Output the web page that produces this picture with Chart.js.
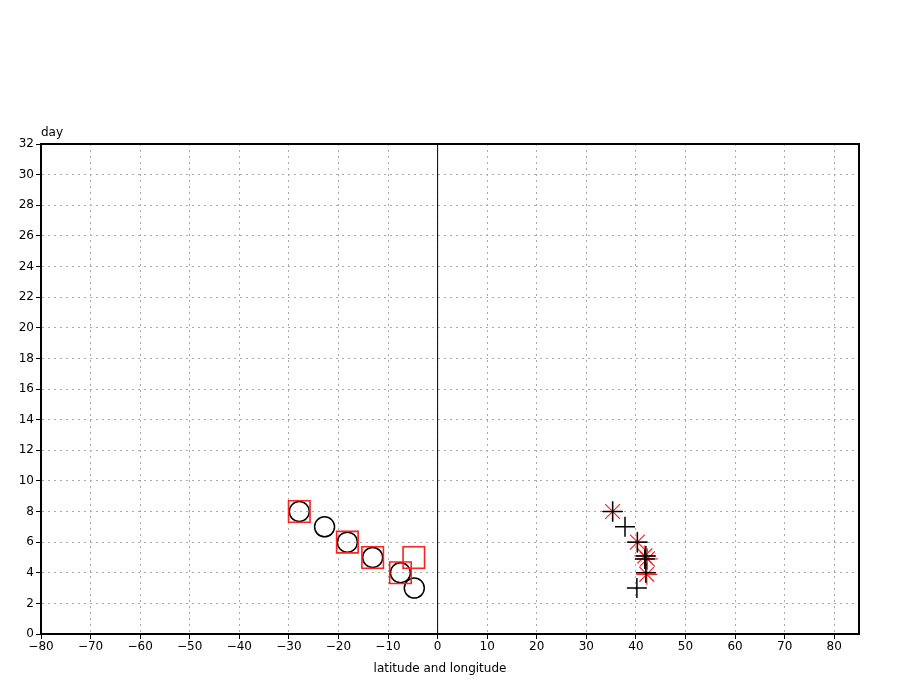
<!DOCTYPE html>
<html>
<head>
<meta charset="utf-8">
<script src="https://cdn.jsdelivr.net/npm/chart.js@4.4.1/dist/chart.umd.min.js"></script>
<style>
  html, body { margin: 0; padding: 0; background: #fff; }
  #wrap { width: 900px; height: 695px; position: relative; }
</style>
</head>
<body>
<div id="wrap"><canvas id="chart"></canvas></div>
<script>
/* ─────────────────────────────────────────
   DATA
───────────────────────────────────────── */
const circleLon = [-27.9, -22.8, -18.2, -13.1, -7.5, -4.7];
const circleDay = [8, 7, 6, 5, 4, 3];

const squareLon = [-27.9, -18.2, -13.1, -4.8, -7.5];
const squareDay = [8, 6, 5, 5, 4];

const plusLon = [35.3, 37.8, 40.3, 42.0, 41.8, 42.0, 40.2];
const plusDay = [8, 7, 6, 5.1, 4.9, 4, 3];

const starLon = [35.3, 40.3, 41.8, 42.3, 42.2];
const starDay = [8, 6, 5.1, 4.9, 3.9];

const zeroLineLon = [0, 0];
const zeroLineDay = [0, 32];

const xTicks = [-80, -70, -60, -50, -40, -30, -20, -10, 0, 10, 20, 30, 40, 50, 60, 70, 80];
const yTicks = [0, 2, 4, 6, 8, 10, 12, 14, 16, 18, 20, 22, 24, 26, 28, 30, 32];

const xTitle = 'latitude and longitude';
const yTitle = 'day';

function pts(xs, ys) {
  return xs.map((x, i) => ({ x: x, y: ys[i] }));
}

const FONT = "'DejaVu Sans', sans-serif";

/* ─────────────────────────────────────────
   Frame + axis titles
───────────────────────────────────────── */
const framePlugin = {
  id: 'frame',
  afterDraw(chart) {
    const { ctx, chartArea: a } = chart;
    ctx.save();
    ctx.setLineDash([]);
    ctx.strokeStyle = '#000';
    ctx.lineWidth = 2;
    ctx.strokeRect(a.left, a.top, a.right - a.left, a.bottom - a.top);
    ctx.fillStyle = '#000';
    ctx.font = '12px ' + FONT;
    ctx.textAlign = 'left';
    ctx.textBaseline = 'alphabetic';
    ctx.fillText(yTitle, a.left, a.top - 8);
    ctx.textAlign = 'center';
    ctx.fillText(xTitle, 440, 672);
    ctx.restore();
  }
};

const gridOpts = {
  color: '#aaa',
  tickLength: 5,
  tickColor: '#000',
  tickBorderDash: [],
  tickWidth: 1
};

const ctx = document.getElementById('chart').getContext('2d');

const chart = new Chart(ctx, {
  type: 'scatter',
  data: {
    datasets: [
      {
        label: 'zero',
        data: pts(zeroLineLon, zeroLineDay),
        showLine: true,
        borderColor: '#000',
        borderWidth: 1,
        pointRadius: 0
      },
      {
        label: 'squares',
        data: pts(squareLon, squareDay),
        pointStyle: 'rect',
        pointRadius: 15.2,
        pointBorderColor: '#ff2020',
        pointBorderWidth: 1.6,
        pointBackgroundColor: 'rgba(0,0,0,0)'
      },
      {
        label: 'circles',
        data: pts(circleLon, circleDay),
        pointStyle: 'circle',
        pointRadius: 10,
        pointBorderColor: '#000',
        pointBorderWidth: 1.5,
        pointBackgroundColor: 'rgba(0,0,0,0)'
      },
      {
        label: 'plus',
        data: pts(plusLon, plusDay),
        pointStyle: 'cross',
        pointRadius: 10,
        pointBorderColor: '#000',
        pointBorderWidth: 1.5
      },
      {
        label: 'stars',
        data: pts(starLon, starDay),
        pointStyle: 'star',
        pointRadius: 10.5,
        pointBorderColor: '#ff2020',
        pointBorderWidth: 1.2
      }
    ]
  },
  options: {
    responsive: true,
    maintainAspectRatio: false,
    animation: false,
    layout: { padding: { top: 144, right: 41, left: 0, bottom: 0 } },
    plugins: {
      legend: { display: false },
      tooltip: { enabled: false }
    },
    elements: { point: { hoverRadius: 10 } },
    scales: {
      x: {
        type: 'linear',
        min: -80,
        max: 85,
        afterBuildTicks: (s) => { s.ticks = xTicks.map(v => ({ value: v })); },
        afterFit: (s) => { s.height = 61; },
        grid: gridOpts,
        border: { display: true, color: '#000', width: 2, dash: [2, 4] },
        ticks: {
          color: '#000',
          padding: 1,
          maxRotation: 0,
          autoSkip: false,
          font: { family: FONT, size: 12 },
          callback: (v) => String(v).replace('-', '\u2212')
        }
      },
      y: {
        type: 'linear',
        min: 0,
        max: 32,
        afterBuildTicks: (s) => { s.ticks = yTicks.map(v => ({ value: v })); },
        afterFit: (s) => { s.width = 41; },
        grid: gridOpts,
        border: { display: true, color: '#000', width: 2, dash: [2, 4] },
        ticks: {
          color: '#000',
          padding: 2,
          autoSkip: false,
          font: { family: FONT, size: 12 }
        }
      }
    }
  },
  plugins: [framePlugin]
});
</script>
</body>
</html>
